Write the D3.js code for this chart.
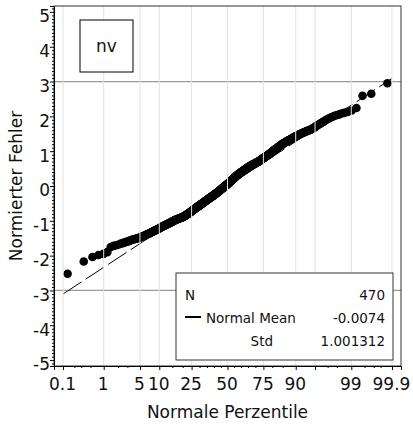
<!DOCTYPE html>
<html>
<head>
<meta charset="utf-8">
<script src="https://d3js.org/d3.v7.min.js"></script>
<style>
  body { margin: 0; background: #fff; }
  text { font-family: "DejaVu Sans", Verdana, sans-serif; fill: #111; }
</style>
</head>
<body>
<div id="chart"></div>
<script>
// normalized residuals, sorted (N = 470)
const residuals = [
  -2.52,-2.17,-2.04,-1.98,-1.95,-1.90,-1.75,
  -1.72,-1.70,-1.68,-1.65,
  -1.64,-1.62,-1.60,-1.59,-1.57,-1.55,
  -1.54,-1.53,-1.52,-1.51,-1.50,-1.49,-1.48,-1.46,-1.45,
  -1.44,-1.43,-1.42,-1.40,-1.39,-1.38,-1.37,-1.36,-1.35,-1.33,-1.32,-1.31,
  -1.30,-1.29,-1.28,-1.27,-1.26,-1.25,-1.24,-1.23,-1.22,-1.21,-1.20,-1.19,-1.18,-1.17,-1.16,-1.15,
  -1.14,-1.13,-1.13,-1.12,-1.11,-1.10,-1.10,-1.09,-1.08,-1.07,-1.07,-1.06,-1.05,-1.04,-1.04,-1.03,-1.02,-1.01,-1.01,-1.00,-0.99,
  -0.98,-0.98,-0.97,-0.97,-0.96,-0.96,-0.95,-0.95,-0.94,-0.94,-0.93,-0.93,-0.92,-0.92,-0.91,-0.91,-0.90,-0.90,-0.89,-0.89,-0.88,-0.88,-0.87,-0.87,-0.86,
  -0.85,-0.84,-0.84,-0.83,-0.82,-0.81,-0.81,-0.80,-0.79,-0.78,-0.78,-0.77,-0.76,-0.75,-0.75,-0.74,-0.73,-0.72,-0.72,-0.71,-0.70,-0.69,-0.69,-0.68,-0.67,-0.66,-0.66,-0.65,-0.64,
  -0.63,-0.63,-0.62,-0.61,-0.61,-0.60,-0.59,-0.59,-0.58,-0.57,-0.57,-0.56,-0.55,-0.55,-0.54,-0.53,-0.53,-0.52,-0.51,-0.51,-0.50,-0.49,-0.49,-0.48,-0.47,-0.47,-0.46,-0.45,-0.45,-0.44,-0.43,-0.43,-0.42,
  -0.41,-0.41,-0.40,-0.40,-0.39,-0.38,-0.38,-0.37,-0.36,-0.36,-0.35,-0.35,-0.34,-0.33,-0.33,-0.32,-0.32,-0.31,-0.30,-0.30,-0.29,-0.29,-0.28,-0.27,-0.27,-0.26,-0.25,-0.25,-0.24,-0.24,-0.23,-0.22,-0.22,-0.21,-0.21,-0.20,
  -0.19,-0.19,-0.18,-0.17,-0.17,-0.16,-0.15,-0.15,-0.14,-0.13,-0.12,-0.12,-0.11,-0.10,-0.10,-0.09,-0.08,-0.08,-0.07,-0.06,-0.06,-0.05,-0.04,-0.04,-0.03,-0.02,-0.02,-0.01,0.00,0.00,0.01,0.02,0.02,0.03,0.04,0.04,0.05,
  0.06,0.06,0.07,0.08,0.09,0.09,0.10,0.11,0.12,0.12,0.13,0.14,0.15,0.15,0.16,0.17,0.18,0.18,0.19,0.20,0.21,0.21,0.22,0.23,0.24,0.24,0.25,0.26,0.27,0.27,0.28,0.29,0.30,0.30,0.31,0.32,0.32,0.33,
  0.34,0.34,0.35,0.35,0.36,0.37,0.37,0.38,0.39,0.39,0.40,0.40,0.41,0.42,0.42,0.43,0.43,0.44,0.45,0.45,0.46,0.46,0.47,0.48,0.48,0.49,0.50,0.50,0.51,0.51,0.52,0.53,0.53,0.54,0.54,0.55,
  0.56,0.56,0.57,0.57,0.58,0.58,0.59,0.59,0.60,0.60,0.61,0.61,0.62,0.62,0.63,0.63,0.64,0.64,0.65,0.65,0.66,0.66,0.67,0.67,0.68,0.68,0.69,0.69,0.70,0.70,0.71,0.71,0.72,
  0.73,0.73,0.74,0.75,0.76,0.76,0.77,0.78,0.78,0.79,0.80,0.81,0.81,0.82,0.83,0.84,0.84,0.85,0.86,0.86,0.87,0.88,0.89,0.89,0.90,0.91,0.91,0.92,0.93,
  0.94,0.95,0.96,0.97,0.98,0.99,1.00,1.01,1.02,1.03,1.04,1.05,1.05,1.06,1.07,1.08,1.09,1.10,1.11,1.12,1.13,1.14,1.15,1.16,1.17,
  1.18,1.19,1.20,1.21,1.22,1.22,1.23,1.24,1.25,1.26,1.27,1.28,1.29,1.30,1.31,1.31,1.32,1.33,1.34,1.35,
  1.36,1.37,1.38,1.39,1.40,1.41,1.42,1.43,1.44,1.45,1.46,1.47,1.48,1.49,1.50,1.51,
  1.52,1.53,1.54,1.55,1.56,1.57,1.58,1.59,1.60,1.61,1.62,1.64,1.65,
  1.67,1.69,1.72,1.74,1.76,1.78,1.80,1.83,1.85,
  1.88,1.91,1.93,1.96,1.98,2.01,
  2.03,2.05,2.08,2.10,
  2.13,2.17,2.24,2.59,2.65,2.95
];

const normalMean = -0.0074;
const normalStd = 1.001312;
const nCount = 470;

const pctTicks  = [0.1, 1, 5, 10, 25, 50, 75, 90, 95, 99, 99.9];
const pctLabels = ["0.1", "1", "5", "10", "25", "50", "75", "90", "", "99", "99.9"];
const pctMinor  = [0.2, 0.3, 0.5, 2, 3, 15, 20, 30, 35, 40, 45, 55, 60, 65, 70, 80, 85, 97, 98, 99.5, 99.7, 99.8];
const yTicks    = [-5, -4, -3, -2, -1, 0, 1, 2, 3, 4, 5];
const refLines  = [-3, 3];

// inverse normal cdf (Acklam)
function probit(p) {
  const a = [-39.69683028665376, 220.9460984245205, -275.9285104469687, 138.3577518672690, -30.66479806614716, 2.506628277459239];
  const b = [-54.47609879822406, 161.5858368580409, -155.6989798598866, 66.80131188771972, -13.28068155288572];
  const c = [-0.007784894002430293, -0.3223964580411365, -2.400758277161838, -2.549732539343734, 4.374664141464968, 2.938163982698783];
  const d = [0.007784695709041462, 0.3224671290700398, 2.445134137142996, 3.754408661907416];
  const pl = 0.02425;
  let q, r;
  if (p < pl) {
    q = Math.sqrt(-2 * Math.log(p));
    return (((((c[0]*q+c[1])*q+c[2])*q+c[3])*q+c[4])*q+c[5]) / ((((d[0]*q+d[1])*q+d[2])*q+d[3])*q+1);
  } else if (p <= 1 - pl) {
    q = p - 0.5; r = q * q;
    return (((((a[0]*r+a[1])*r+a[2])*r+a[3])*r+a[4])*r+a[5])*q / (((((b[0]*r+b[1])*r+b[2])*r+b[3])*r+b[4])*r+1);
  } else {
    q = Math.sqrt(-2 * Math.log(1 - p));
    return -(((((c[0]*q+c[1])*q+c[2])*q+c[3])*q+c[4])*q+c[5]) / ((((d[0]*q+d[1])*q+d[2])*q+d[3])*q+1);
  }
}

const W = 413, H = 426;
const margin = {top: 6, right: 12, bottom: 60, left: 54};

const svg = d3.select("#chart").append("svg")
  .attr("width", W).attr("height", H);

const x = d3.scaleLinear().domain([-3.26, 3.26]).range([margin.left, W - margin.right]);
const y = d3.scaleLinear().domain([-5.17, 5.17]).range([H - margin.bottom, margin.top]);

const n = residuals.length;
const pts = residuals.map((v, i) => ({z: probit((i + 1 - 0.375) / (n + 0.25)), v: v}));

// reference lines at +-3
svg.append("g").selectAll("line").data(refLines).enter().append("line")
  .attr("x1", x.range()[0]).attr("x2", x.range()[1])
  .attr("y1", d => y(d)).attr("y2", d => y(d))
  .attr("stroke", "#9a9a9a").attr("stroke-width", 1.2);

// normal fit line
const zEnd = probit(0.999);
svg.append("path")
  .datum([-zEnd, zEnd])
  .attr("fill", "none").attr("stroke", "#000").attr("stroke-width", 1)
  .attr("stroke-dasharray", "22,5")
  .attr("d", d3.line().x(d => x(d)).y(d => y(normalMean + normalStd * d)));

// points
svg.append("g").selectAll("circle").data(pts).enter().append("circle")
  .attr("cx", d => x(d.z)).attr("cy", d => y(d.v))
  .attr("r", 4.3).attr("fill", "#000");

// vertical grid (drawn over points)
svg.append("g").selectAll("line").data(pctTicks).enter().append("line")
  .attr("x1", d => x(probit(d / 100))).attr("x2", d => x(probit(d / 100)))
  .attr("y1", y.range()[1]).attr("y2", y.range()[0])
  .attr("stroke", "#e2e2e2").attr("stroke-width", 1);

// frame
svg.append("rect")
  .attr("x", margin.left).attr("y", margin.top)
  .attr("width", x.range()[1] - margin.left).attr("height", y.range()[0] - margin.top)
  .attr("fill", "none").attr("stroke", "#333").attr("stroke-width", 1);

// y axis
const yAxis = d3.axisLeft(y).tickValues(yTicks).tickSize(4).tickFormat(d3.format("d"));
const gy = svg.append("g").attr("transform", `translate(${margin.left},0)`).call(yAxis);
gy.select(".domain").attr("stroke", "#000");
gy.selectAll("text").attr("font-size", 17).attr("x", -4).attr("dy", "0.58em")
  .text(d => d < 0 ? "-" + Math.abs(d) : d);
const yMinor = d3.range(-51, 52).map(d => d / 10).filter(d => Math.abs(d % 1) > 0.01);
svg.append("g").attr("transform", `translate(${margin.left},0)`)
  .call(d3.axisLeft(y).tickValues(yMinor).tickSize(2).tickFormat(""))
  .call(g => g.select(".domain").remove());

// x axis
const xAxis = d3.axisBottom(x).tickValues(pctTicks.map(p => probit(p / 100)))
  .tickSize(4).tickFormat((d, i) => pctLabels[i]);
const gx = svg.append("g").attr("transform", `translate(0,${y.range()[0]})`).call(xAxis);
gx.select(".domain").attr("stroke", "#000");
gx.selectAll("text").attr("font-size", 17).attr("dy", "0.98em").attr("dx", -1);
svg.append("g").attr("transform", `translate(0,${y.range()[0]})`)
  .call(d3.axisBottom(x).tickValues(pctMinor.map(p => probit(p / 100))).tickSize(2).tickFormat(""))
  .call(g => g.select(".domain").remove());

// axis titles
svg.append("text")
  .attr("transform", `translate(22,${(y.range()[0] + y.range()[1]) / 2}) rotate(-90)`)
  .attr("text-anchor", "middle").attr("font-size", 17)
  .text("Normierter Fehler");
svg.append("text")
  .attr("x", x(0)).attr("y", 418)
  .attr("text-anchor", "middle").attr("font-size", 17)
  .text("Normale Perzentile");

// group label box
const nvBox = svg.append("g");
nvBox.append("rect").attr("x", 80).attr("y", 20).attr("width", 53).attr("height", 52)
  .attr("fill", "#fff").attr("stroke", "#000").attr("stroke-width", 1);
nvBox.append("text").attr("x", 106.5).attr("y", 52).attr("text-anchor", "middle")
  .attr("font-size", 17).text("nv");

// legend
const legendRows = [
  {name: "N", value: String(nCount), anchor: "start", tx: 185},
  {name: "Normal Mean", value: String(normalMean), anchor: "start", tx: 206, swatch: true},
  {name: "Std", value: String(normalStd), anchor: "end", tx: 273}
];
const lg = svg.append("g");
lg.append("rect").attr("x", 176).attr("y", 273).attr("width", 217).attr("height", 87)
  .attr("fill", "#fff").attr("stroke", "#333").attr("stroke-width", 1);
legendRows.forEach((r, i) => {
  const by = 300 + i * 23;
  lg.append("text").attr("x", r.tx).attr("y", by).attr("text-anchor", r.anchor)
    .attr("font-size", 13.5).text(r.name);
  lg.append("text").attr("x", 385).attr("y", by).attr("text-anchor", "end")
    .attr("font-size", 13.5).text(r.value);
  if (r.swatch) {
    lg.append("line").attr("x1", 185).attr("x2", 201).attr("y1", by - 6).attr("y2", by - 6)
      .attr("stroke", "#000").attr("stroke-width", 2);
  }
});
</script>
</body>
</html>
